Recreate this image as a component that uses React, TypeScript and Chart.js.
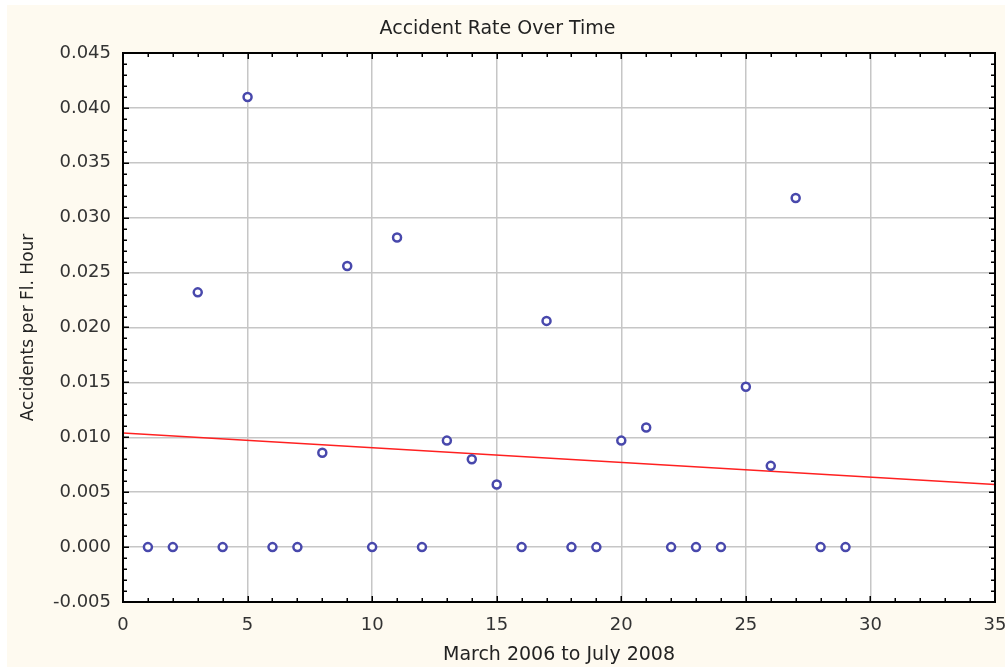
import React, { useEffect, useRef } from "react";
import { Chart, registerables } from "chart.js";

Chart.register(...registerables);

// ---- data ----
const months = [1, 2, 3, 4, 5, 6, 7, 8, 9, 10, 11, 12, 13, 14, 15, 16, 17, 18, 19, 20, 21, 22, 23, 24, 25, 26, 27, 28, 29];
const accidentRates = [
  0, 0, 0.0232, 0, 0.041, 0, 0, 0.0086, 0.0256, 0, 0.0282, 0, 0.0097, 0.008, 0.0057, 0,
  0.0206, 0, 0, 0.0097, 0.0109, 0, 0, 0, 0.0146, 0.0074, 0.0318, 0, 0,
];
const trendX = [0, 35];
const trendY = [0.0104, 0.0057];
const xMin = 0;
const xMax = 35;
const xStep = 5;
const yMin = -0.005;
const yMax = 0.045;
const yStep = 0.005;
const titleText = "Accident Rate Over Time";
const xTitle = "March 2006 to July 2008";
const yTitle = "Accidents per Fl. Hour";

const FONT = "'DejaVu Sans', sans-serif";
const CREAM = "#fefaf0";

const backgroundPlugin = {
  id: "bgPlugin",
  beforeDraw(chart: any) {
    const { ctx, width, height, chartArea } = chart;
    ctx.save();
    ctx.fillStyle = "#ffffff";
    ctx.fillRect(0, 0, width, height);
    ctx.fillStyle = CREAM;
    ctx.fillRect(7, 5, width - 7, height - 5);
    ctx.fillStyle = "#ffffff";
    ctx.fillRect(chartArea.left, chartArea.top, chartArea.right - chartArea.left, chartArea.bottom - chartArea.top);
    ctx.restore();
  },
};

const framePlugin = {
  id: "framePlugin",
  afterDraw(chart: any) {
    const { ctx, chartArea } = chart;
    const xs = chart.scales.x;
    const ys = chart.scales.y;
    const { left, right, top, bottom } = chartArea;
    ctx.save();
    ctx.strokeStyle = "#000000";
    ctx.lineWidth = 1.5;
    ctx.beginPath();
    for (let v = xMin; v <= xMax; v += 1) {
      const px = Math.round(xs.getPixelForValue(v)) + 0.25;
      const len = v % 5 === 0 ? 6 : 4;
      ctx.moveTo(px, bottom);
      ctx.lineTo(px, bottom - len);
      ctx.moveTo(px, top);
      ctx.lineTo(px, top + len);
    }
    for (let i = -5; i <= 45; i += 1) {
      const py = Math.round(ys.getPixelForValue(i / 1000)) + 0.25;
      const len = i % 5 === 0 ? 6 : 4;
      ctx.moveTo(left, py);
      ctx.lineTo(left + len, py);
      ctx.moveTo(right, py);
      ctx.lineTo(right - len, py);
    }
    ctx.stroke();
    ctx.lineWidth = 2;
    ctx.strokeRect(left, top, right - left, bottom - top);
    ctx.restore();
  },
};

export default function App() {
  const canvasRef = useRef<HTMLCanvasElement | null>(null);

  useEffect(() => {
    if (!canvasRef.current) return;
    const points = months.map((m, i) => ({ x: m, y: accidentRates[i] }));
    const trend = trendX.map((x, i) => ({ x, y: trendY[i] }));
    const chart = new Chart(canvasRef.current, {
      type: "scatter",
      data: {
        datasets: [
          {
            type: "scatter",
            label: "Accident rate",
            data: points,
            pointRadius: 4,
            pointHoverRadius: 4,
            pointBorderWidth: 2.5,
            borderColor: "#4848ac",
            backgroundColor: "#ffffff",
          } as any,
          {
            type: "line",
            label: "Trend",
            data: trend,
            borderColor: "#ff2020",
            borderWidth: 1.5,
            pointRadius: 0,
            fill: false,
          } as any,
        ],
      },
      options: {
        animation: false,
        responsive: false,
        maintainAspectRatio: false,
        layout: { padding: { left: 0, right: 10, top: 0, bottom: 0 } },
        plugins: {
          legend: { display: false },
          tooltip: { enabled: false },
          title: {
            display: true,
            text: titleText,
            color: "#222222",
            font: { family: FONT, size: 19, weight: "normal" },
            padding: { top: 17.6, bottom: 12.6 },
          },
        },
        scales: {
          x: {
            type: "linear",
            min: xMin,
            max: xMax,
            ticks: {
              stepSize: xStep,
              color: "#333333",
              font: { family: FONT, size: 18 },
              padding: 13,
              maxRotation: 0,
            },
            grid: { color: "#c6c6c6", lineWidth: 1.5, drawTicks: false },
            border: { display: false },
            title: {
              display: true,
              text: xTitle,
              color: "#222222",
              font: { family: FONT, size: 19 },
              padding: { top: 0, bottom: 1 },
            },
            afterFit(scale: any) {
              scale.height = 65;
              scale.paddingLeft = 0;
              scale.paddingRight = 0;
            },
          },
          y: {
            type: "linear",
            min: yMin,
            max: yMax,
            ticks: {
              stepSize: yStep,
              color: "#333333",
              font: { family: FONT, size: 18 },
              padding: 12,
              callback: (v: any) => {
                const n = Math.round(Number(v) * 1000) / 1000;
                return (Math.abs(n) < 1e-9 ? 0 : n).toFixed(3);
              },
            },
            grid: { color: "#c6c6c6", lineWidth: 1.5, drawTicks: false },
            border: { display: false },
            title: {
              display: true,
              text: yTitle,
              color: "#222222",
              font: { family: FONT, size: 17 },
              padding: { top: 18, bottom: 0 },
            },
            afterFit(scale: any) {
              scale.width = 123;
              scale.paddingTop = 0;
              scale.paddingBottom = 0;
            },
          },
        },
      },
      plugins: [backgroundPlugin, framePlugin],
    });
    return () => chart.destroy();
  }, []);

  return (
    <div style={{ position: "fixed", left: 0, top: 0, width: 1005, height: 667, background: "#ffffff" }}>
      <canvas ref={canvasRef} width={1005} height={667} style={{ display: "block" }} />
    </div>
  );
}
